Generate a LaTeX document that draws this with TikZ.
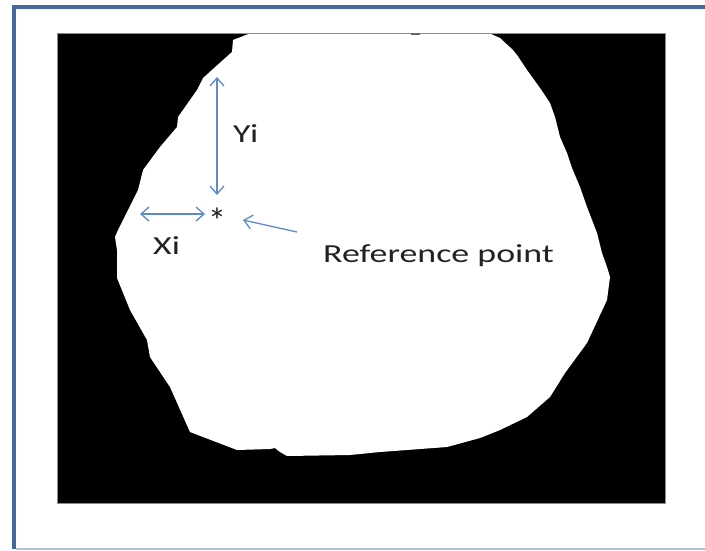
\documentclass[tikz,border=0pt]{standalone}
\usepackage{fontspec}
\setmainfont{Carlito}
\usepackage{graphicx}
\usetikzlibrary{arrows.meta,positioning}
\definecolor{cFrame}{HTML}{45699C}
\definecolor{cEdge} {HTML}{B4C0D4}
\definecolor{cArr}  {HTML}{5B8BCB}
\definecolor{cTxt}  {HTML}{222222}
\tikzset{
  lbl/.style ={font=\fontsize{26}{30}\selectfont,text=cTxt,inner sep=0pt},
  dim/.style ={{Straight Barb[length=8pt,width=14pt]}-{Straight Barb[length=8pt,width=14pt]},
               draw=cArr,line width=1.3pt},
  ptr/.style ={-{Straight Barb[length=8pt,width=14pt]},draw=cArr,line width=1.3pt},
}
\newcommand{\wide}[1]{\scalebox{1.38}[1]{#1}}

\begin{document}
\begin{tikzpicture}[x=1pt, y=-1pt]
\useasboundingbox (0,0) rectangle (705,550);

% ===== slide frame ==========================================================
\draw[cFrame,line width=4pt] (14,549) -- (14,7) -- (705,7);
\draw[cEdge,line width=1.5pt] (16,549) -- (705,549);

% ===== binary image =========================================================
\fill[black] (57,33) rectangle (665,503);
\fill[white] (251,33) -- (489,33) -- (500,38) -- (513,50) -- (517,55) -- (527,70)
  -- (540,88) -- (550,103) -- (555,117) -- (560,137) -- (567,153) -- (572,168)
  -- (580,187) -- (587,207) -- (597,233) -- (602,253) -- (607,267) -- (610,277)
  -- (607,300) -- (587,343) -- (565,373) -- (550,397) -- (527,417) -- (500,430)
  -- (480,438) -- (447,447) -- (380,452) -- (350,455) -- (287,456) -- (280,452)
  -- (275,448) -- (270,449) -- (237,450) -- (190,432) -- (170,387) -- (150,357)
  -- (147,340) -- (130,310) -- (117,278) -- (117,250) -- (115,237) -- (118,230)
  -- (128,210) -- (138,190) -- (143,170) -- (160,147) -- (177,127) -- (178,117)
  -- (197,90) -- (203,78) -- (223,60) -- (232,52) -- (233,40) -- cycle;
\draw[black!45,line width=0.8pt] (57,33) rectangle (665,503);
\fill[black!60] (411,33) rectangle (420,35);

% ===== reference point and offsets =========================================
\node[lbl,anchor=base,font=\fontsize{36}{40}\selectfont] (star) at (217,233) {*};
\coordinate (ytop) at (217,77);
\coordinate (ybot) at (217,195);
\coordinate (xlft) at (140,214);
\coordinate (xrgt) at (205,214);
\draw[dim] (ytop) -- (ybot);
\draw[dim] (xlft) -- (xrgt);
\node[lbl,anchor=base west] (yi) at (233,142) {\wide{Yi}};
\node[lbl,anchor=base west] (xi) at (153,254) {\wide{Xi}};

\node[lbl,anchor=base west] (ref) at (323,262) {\wide{Reference point}};
\coordinate (reftail) at (297,232);
\coordinate (refhead) at (243,220);
\draw[ptr] (reftail) -- (refhead);
\end{tikzpicture}
\end{document}
